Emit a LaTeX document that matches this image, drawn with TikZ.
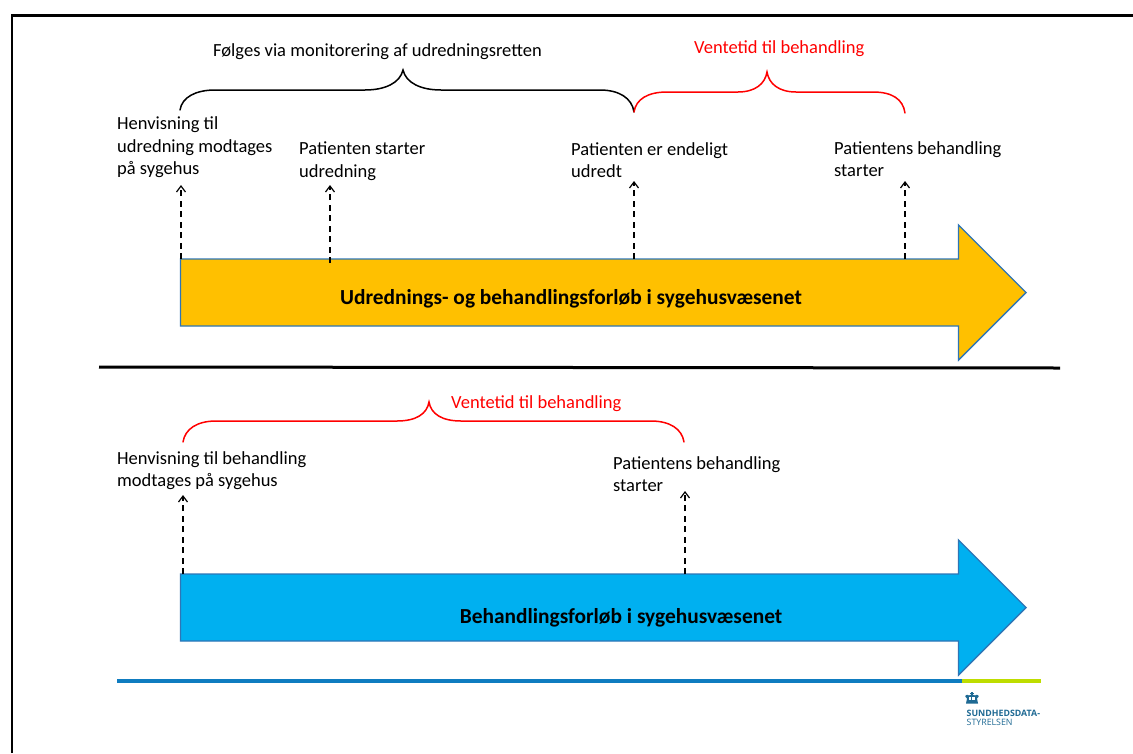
\documentclass[tikz,border=0pt]{standalone}
\usepackage{fontspec}
\setmainfont{Carlito}
\newfontfamily\logofont{Open Sans}
\usetikzlibrary{arrows.meta}
\definecolor{barblue}{HTML}{00B0F0}
\definecolor{baryellow}{HTML}{FFC000}
\definecolor{barline}{HTML}{2E75B6}
\definecolor{footblue}{HTML}{0F7CC0}
\definecolor{footgreen}{HTML}{BEDD00}
\definecolor{logoblue}{HTML}{1F6A94}
\tikzset{
  lbl/.style={inner sep=0pt,anchor=north west,align=left,font=\fontsize{18.5}{22.7}\selectfont,text=black},
  redlbl/.style={inner sep=0pt,anchor=base west,font=\fontsize{18.5}{23}\selectfont,text=red},
  toplbl/.style={inner sep=0pt,anchor=base west,font=\fontsize{18.5}{23}\selectfont,text=black},
  barlbl/.style={inner sep=0pt,anchor=center,font=\fontsize{21.4}{23}\selectfont\bfseries,text=black},
  bigarrow/.style={draw=barline,line width=1.4pt,line join=miter},
  tick/.style={draw=black,line width=1.2pt,dash pattern=on 6pt off 4.5pt,-{Straight Barb[length=6pt,width=9pt,line width=1.2pt]}},
  bracket/.style={line width=1.5pt,line cap=round,fill=none}
}
\begin{document}
\begin{tikzpicture}[x=1pt,y=-1pt]
\useasboundingbox (0,0) rectangle (1133,753);
\fill[white] (0,0) rectangle (1133,753);
% frame
\draw[line width=2.2pt,black] (12,753) -- (12,15.5) -- (1133,15.5);
% separator and footer
\coordinate (sepL) at (99,367);
\coordinate (sepR) at (1060,368);
\draw[line width=3pt,black] (sepL) -- (sepR);
\coordinate (footL) at (117,681);
\coordinate (footM) at (962,681);
\coordinate (footR) at (1041,681);
\draw[line width=3.6pt,footblue] (footL) -- (footM);
\draw[line width=3.6pt,footgreen] (footM) -- (footR);
% big arrows
\draw[bigarrow,fill=baryellow] (180.5,259) -- (958.5,259) -- (958.5,225) -- (1026,292.5) -- (958.5,360) -- (958.5,326) -- (180.5,326) -- cycle;
\draw[bigarrow,fill=barblue] (180.5,574) -- (958.5,574) -- (958.5,540) -- (1026,607.5) -- (958.5,675) -- (958.5,641) -- (180.5,641) -- cycle;
\node[barlbl] (bar1) at (571,298.5) {Udrednings- og behandlingsforløb i sygehusvæsenet};
\node[barlbl] (bar2) at (621,617.5) {Behandlingsforløb i sygehusvæsenet};
% tick anchors
\coordinate (a1) at (181,259);
\coordinate (a2) at (330,263);
\coordinate (a3) at (634,259);
\coordinate (a4) at (905,259);
\coordinate (b1) at (183,574);
\coordinate (b2) at (685,574);
\coordinate (a1t) at (181,185);
\coordinate (a2t) at (330,185);
\coordinate (a3t) at (634,181);
\coordinate (a4t) at (905,181);
\coordinate (b1t) at (183,495);
\coordinate (b2t) at (685,491);
\foreach \p/\q in {a1/a1t,a2/a2t,a3/a3t,a4/a4t,b1/b1t,b2/b2t}{\draw[tick] (\p) -- (\q);}
% labels
\node[lbl] (t1) at (117,116.5) {Henvisning til\\udredning modtages\\på sygehus};
\node[lbl] (t2) at (299,142) {Patienten starter\\udredning};
\node[lbl] (t3) at (571,142) {Patienten er endeligt\\udredt};
\node[lbl] (t4) at (834,141) {Patientens behandling\\starter};
\node[lbl] (t5) at (117,451) {Henvisning til behandling\\modtages på sygehus};
\node[lbl] (t6) at (613,456) {Patientens behandling\\starter};
\node[toplbl] (h1) at (213,56) {Følges via monitorering af udredningsretten};
\node[redlbl] (h2) at (694,53) {Ventetid til behandling};
\node[redlbl] (h3) at (451,408) {Ventetid til behandling};
% braces
\draw[bracket,black] (180,110) .. controls (182,97) and (196,90) .. (215,90) -- (365,90) .. controls (385,90) and (400,83) .. (403,70) .. controls (406,83) and (421,90) .. (441,90) -- (600,90) .. controls (619,90) and (632,98) .. (634,112);
\draw[bracket,red] (634,112) .. controls (636,99) and (648,92) .. (667,92) -- (738,92) .. controls (755,92) and (765,84) .. (767,72) .. controls (769,84) and (779,92) .. (796,92) -- (873,92) .. controls (892,92) and (903,99) .. (905,113);
\draw[bracket,red] (183,442) .. controls (185,429) and (197,421) .. (216,421) -- (397,421) .. controls (416,421) and (427,414) .. (429,402) .. controls (431,414) and (442,421) .. (461,421) -- (651,421) .. controls (670,421) and (682,429) .. (684,442);
% logo
\begin{scope}[shift={(972,702)}]
\fill[logoblue] (-5,-3.5) .. controls (-9,-6) and (-5,-8.5) .. (-3,-6.5) .. controls (-2,-7.5) and (2,-7.5) .. (3,-6.5) .. controls (5,-8.5) and (9,-6) .. (5,-3.5) -- (6,1.5) -- (-6,1.5) -- cycle;
\fill[logoblue] (-0.8,-7) rectangle (0.8,-10);
\fill[logoblue] (-2,-9) rectangle (2,-8);
\fill[white] (-3,-5) rectangle (-1.2,-2);
\fill[white] (1.2,-5) rectangle (3,-2);
\fill[white] (-0.5,-5) rectangle (0.5,-2);
\end{scope}
\node[inner sep=0pt,anchor=base west,font=\logofont\fontsize{8.8}{9}\selectfont\bfseries,text=logoblue] (logo1) at (966.5,716) {SUNDHEDSDATA-};
\node[inner sep=0pt,anchor=base west,font=\logofont\fontsize{8.8}{9}\selectfont,text=logoblue] (logo2) at (966.5,725) {STYRELSEN};
\end{tikzpicture}
\end{document}
